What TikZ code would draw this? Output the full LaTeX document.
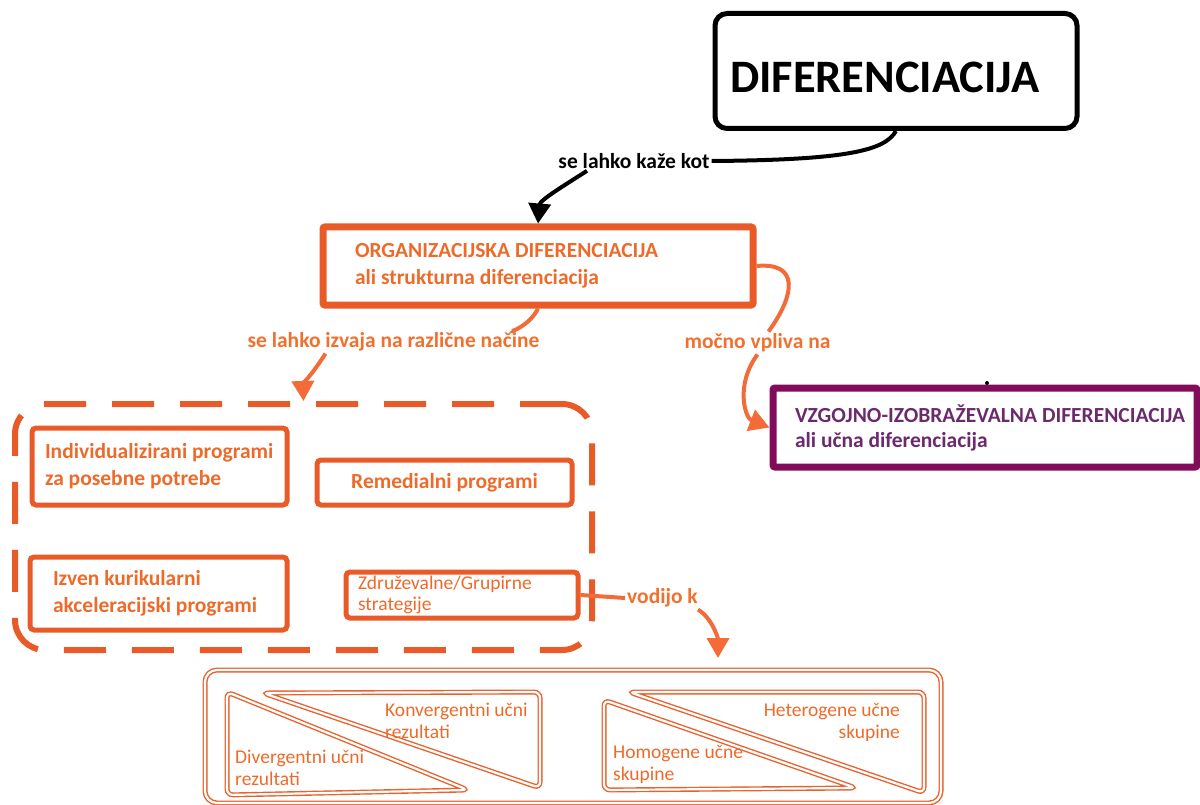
\documentclass[tikz,border=0pt]{standalone}
\usepackage{fontspec}
\setmainfont{Carlito}
\usetikzlibrary{arrows.meta}
\definecolor{orline}{HTML}{E85A28}
\definecolor{ortext}{HTML}{EE6A2A}
\definecolor{orarrow}{HTML}{F26B38}
\definecolor{orlabel}{HTML}{F0702E}
\definecolor{purline}{HTML}{820B5B}
\definecolor{purtext}{HTML}{6B2A6B}
\definecolor{botline}{HTML}{E8622E}
\newcommand{\fsA}{\fontsize{21.5}{27}\selectfont}
\newcommand{\fsB}{\fontsize{19.5}{21}\selectfont}
\newcommand{\fsC}{\fontsize{19.5}{22}\selectfont}
\begin{document}
\begin{tikzpicture}[x=1pt,y=-1pt,
  box/.style={draw=orline, line width=5pt, rounded corners=4pt, text=ortext,
    font=\bfseries\fsA, align=flush left, inner ysep=0pt},
  bigbox/.style={box, line width=7pt, rounded corners=2pt},
  lbl/.style={font=\bfseries\fsA, text=orlabel, inner sep=2pt},
  orc/.style={draw=orarrow, line width=4pt},
  blk/.style={draw=black, line width=4pt},
  tip/.style={-{Triangle[length=20pt,width=22pt]}},
  dbl/.style={draw=botline, line width=1.4pt, double=white, double distance=2.2pt, rounded corners=6pt},
  btxt/.style={font=\fsC, text=ortext, inner sep=0pt}
]
\useasboundingbox (0,0) rectangle (1200,805);
% title box
\node[draw=black, line width=5pt, rounded corners=12pt, text width=332pt, inner xsep=15pt,
  minimum height=115pt, align=flush left, font=\bfseries\fontsize{46.5}{50}\selectfont]
  (diff) at (896,71) {\raisebox{-22pt}[0pt][0pt]{DIFERENCIACIJA}};
% main boxes
\node[bigbox, text width=366pt, inner xsep=32pt, minimum height=78pt] (org) at (538,266)
  {\mbox{ORGANIZACIJSKA DIFERENCIACIJA}\\\mbox{ali strukturna diferenciacija}};
\node[bigbox, draw=purline, text=purtext, text width=380pt, inner xsep=22pt, minimum height=79pt,
  font=\bfseries\fontsize{21.5}{25}\selectfont] (vzg) at (985,427.5)
  {\mbox{VZGOJNO-IZOBRAŽEVALNA DIFERENCIACIJA}\\\mbox{ali učna diferenciacija}};
% dashed group
\node[draw=orline, line width=6pt, dash pattern=on 42pt off 26pt, rounded corners=30pt,
  minimum width=577pt, minimum height=246pt] (dash) at (303.5,527) {};
\node[box, text width=229pt, inner xsep=13pt, minimum height=77pt] (indiv) at (159.5,466.5)
  {\mbox{Individualizirani programi}\\\mbox{za posebne potrebe}};
\node[box, text width=229pt, inner xsep=13pt, minimum height=45pt, align=flush center] (remed) at (444.5,482.5)
  {Remedialni programi};
\node[box, text width=211pt, inner xsep=23pt, minimum height=73pt] (izven) at (158.5,593.5)
  {\mbox{Izven kurikularni}\\\mbox{akceleracijski programi}};
\node[box, text width=208pt, inner xsep=12pt, minimum height=46pt, font=\fsB] (zdruz) at (462,595)
  {\mbox{Združevalne/Grupirne}\\\mbox{strategije}};
% bottom group
\node[dbl, rounded corners=12pt, minimum width=736pt, minimum height=133pt] (bot) at (573,736.5) {};
\draw[dbl] (227,692) -- (227,795) -- (468,790) -- cycle;
\draw[dbl] (263,693) -- (540,692) -- (540,788) -- cycle;
\draw[dbl] (604,700) -- (604,790) -- (856,788) -- cycle;
\draw[dbl] (629,692) -- (924,692) -- (924,793) -- cycle;
\node[btxt, anchor=west, align=flush left] (konv) at (385,721) {Konvergentni učni\\rezultati};
\node[btxt, anchor=west, align=flush left] (div) at (235,768) {Divergentni učni\\rezultati};
\node[btxt, anchor=east, align=flush right] (het) at (900,722) {Heterogene učne\\skupine};
\node[btxt, anchor=west, align=flush left] (hom) at (613,764) {Homogene učne\\skupine};
% labels
\node[lbl, text=black] (lab1) at (634,161) {se lahko kaže kot};
\node[lbl] (lab2) at (393.5,342) {se lahko izvaja na različne načine};
\node[lbl] (lab3) at (757.5,343) {močno vpliva na};
\node[lbl] (lab4) at (662.5,598) {vodijo k};
\coordinate (vtip) at (718,658);
% connectors
\draw[blk] (diff.south) .. controls (885,150) and (850,160) .. (lab1.east);
\draw[blk, tip] ([xshift=-47pt]lab1.south) .. controls (565,185) and (540,200) .. (org.north);
\draw[orc] (org.south) .. controls (530,325) and (510,333) .. ([xshift=-30pt]lab2.north east);
\draw[orc, tip] ([xshift=-68pt]lab2.south) .. controls (315,370) and (303,385) .. (dash.north);
\draw[orc] (org.east) .. controls (800,262) and (795,295) .. ([xshift=11pt]lab3.north);
\draw[orc, tip] (lab3.south) .. controls (735,385) and (745,418) .. (vzg.west);
\draw[orc] (zdruz.east) -- (lab4.west);
\draw[orc, tip] ([xshift=-2pt]lab4.south east) .. controls (712,618) and (718,638) .. (vtip);
\fill (987,383) circle (2pt);
\end{tikzpicture}
\end{document}
